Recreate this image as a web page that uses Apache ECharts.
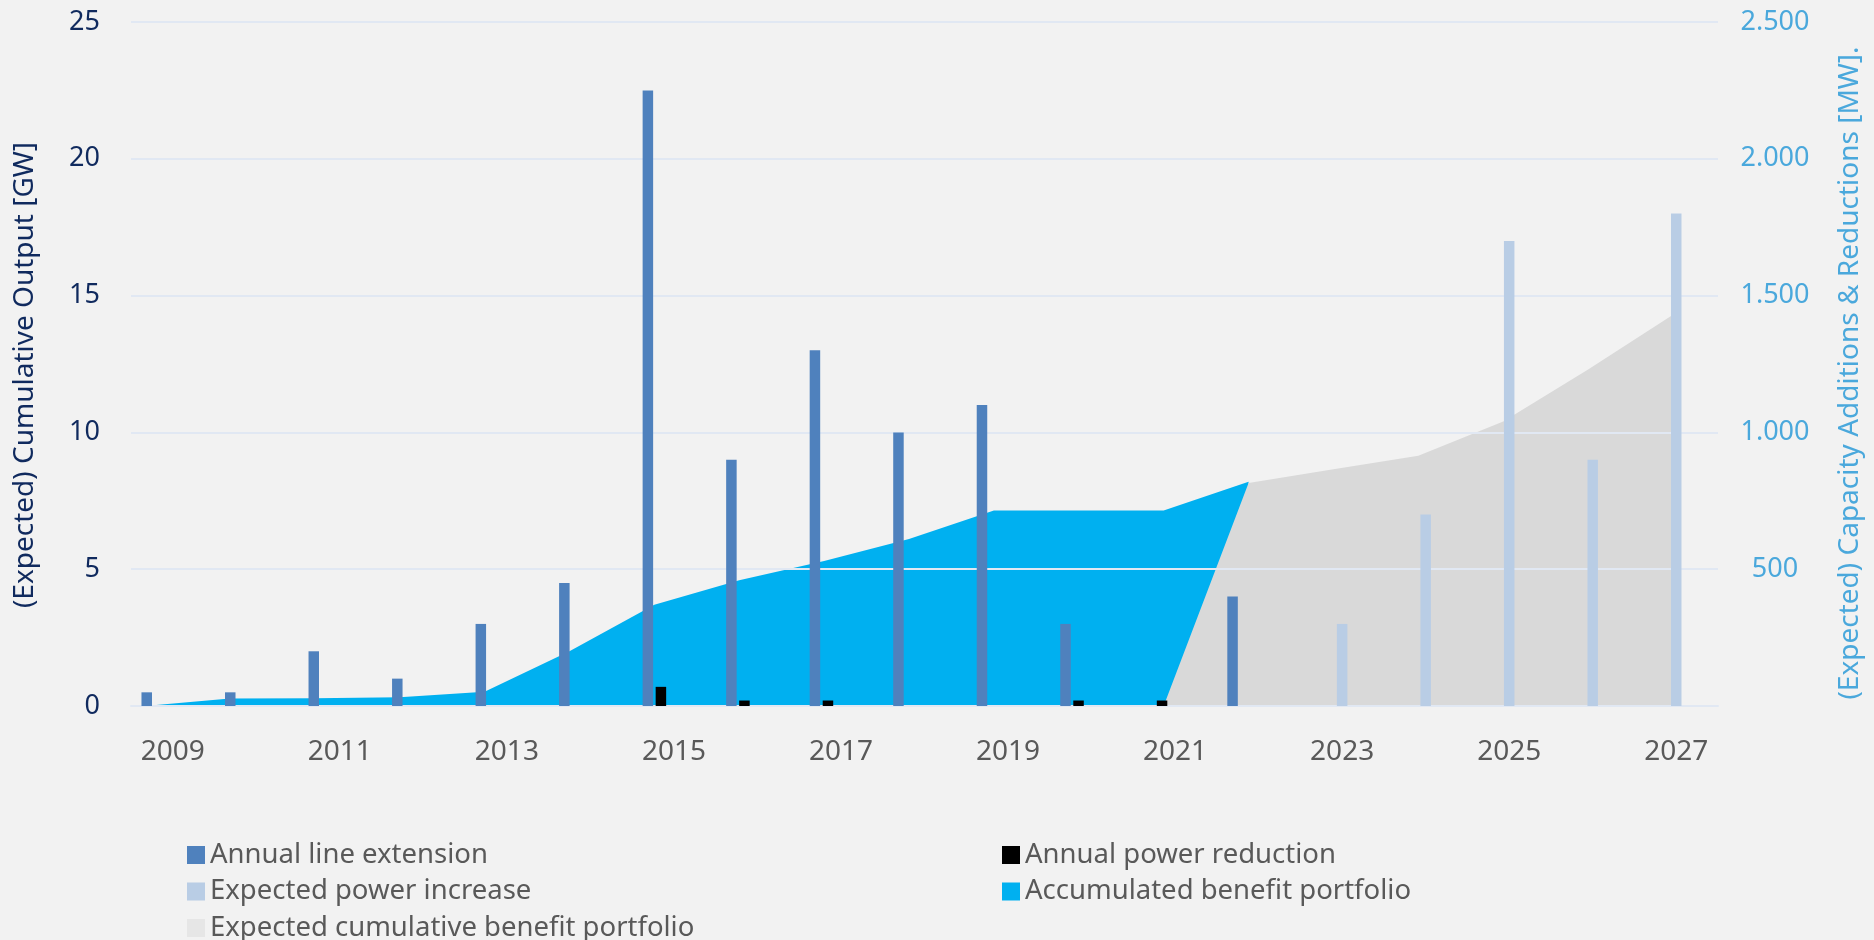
<!DOCTYPE html>
<html>
<head>
<meta charset="utf-8">
<script src="https://cdn.jsdelivr.net/npm/echarts@6/dist/echarts.min.js"></script>
<style>
  html, body { margin: 0; padding: 0; background: #f2f2f2; }
  #chart { width: 1874px; height: 940px; }
</style>
</head>
<body>
<div id="chart"></div>
<script>
// categories
const years = ['2009', '2010', '2011', '2012', '2013', '2014', '2015', '2016', '2017', '2018',
               '2019', '2020', '2021', '2022', '2023', '2024', '2025', '2026', '2027'];

// bars, MW (right axis)
const lineExtension    = [50, 50, 200, 100, 300, 450, 2250, 900, 1300, 1000, 1100, 300, null, 400, null, null, null, null, null];
const powerReduction   = [null, null, null, null, null, null, 70, 20, 20, null, null, 20, 20, null, null, null, null, null, null];
const expectedIncrease = [null, null, null, null, null, null, null, null, null, null, null, null, null, null, 300, 700, 1700, 900, 1800];

// areas, GW (left axis)
const accumulated        = [0, 0.27, 0.28, 0.32, 0.52, 2.0, 3.7, 4.6, 5.3, 6.1, 7.15, 7.15, 7.15, 8.2, null, null, null, null, null];
const expectedCumulative = [null, null, null, null, null, null, null, null, null, null, null, null, 0, 8.15, 8.65, 9.15, 10.4, 12.3, 14.3];

// tick values
const gwTicks = { min: 0, max: 25, interval: 5 };
const mwTicks = { min: 0, max: 2500, interval: 500 };

const leftTitle = '(Expected) Cumulative Output [GW]';
const rightTitle = '(Expected) Capacity Additions & Reductions [MW].';

const FONT = '"Noto Sans", "Open Sans", sans-serif';
const GRID_LINE = '#e1e8f3';

function mwLabel(v) {
    if (v === 0) return '';
    if (v >= 1000) return Math.floor(v / 1000) + '.' + String(v % 1000).padStart(3, '0');
    return String(v);
}

const chart = echarts.init(document.getElementById('chart'));

const barBase = {
    type: 'bar',
    xAxisIndex: 0,
    yAxisIndex: 1,
    barWidth: 10.5,
    barGap: '24%',
    z: 3
};

const legendBase = {
    top: 841,
    height: 120,
    padding: 0,
    orient: 'vertical',
    icon: 'rect',
    itemWidth: 18,
    itemHeight: 18,
    itemGap: 8.5,
    selectedMode: false,
    textStyle: { fontSize: 27.5, lineHeight: 24, color: '#595959', fontFamily: FONT }
};

const option = {
    backgroundColor: '#f2f2f2',
    animation: false,
    textStyle: { fontFamily: FONT },
    grid: [
        { left: 131, right: 156, top: 22, bottom: 234 },
        { left: 145, right: 201, top: 22, bottom: 234 }
    ],
    graphic: [
        {
            type: 'text',
            x: 25,
            y: 375,
            rotation: Math.PI / 2,
            style: {
                text: leftTitle,
                font: '28px ' + FONT,
                fill: '#102a5e',
                align: 'center',
                verticalAlign: 'middle'
            }
        },
        {
            type: 'text',
            x: 1850,
            y: 373,
            rotation: Math.PI / 2,
            style: {
                text: rightTitle,
                font: '28px ' + FONT,
                fill: '#4aa8dc',
                align: 'center',
                verticalAlign: 'middle'
            }
        }
    ],
    xAxis: [
        {
            type: 'category',
            gridIndex: 0,
            data: years,
            boundaryGap: true,
            z: 2,
            axisTick: { show: false },
            axisLine: { lineStyle: { color: GRID_LINE, width: 2 } },
            axisLabel: {
                interval: 1,
                margin: 32,
                fontSize: 28,
                color: '#595959',
                fontFamily: FONT
            }
        },
        {
            type: 'category',
            gridIndex: 1,
            data: years,
            boundaryGap: false,
            show: false
        }
    ],
    yAxis: [
        {
            type: 'value',
            gridIndex: 0,
            min: gwTicks.min,
            max: gwTicks.max,
            interval: gwTicks.interval,
            z: 2,
            axisLine: { show: false },
            axisTick: { show: false },
            axisLabel: { fontSize: 27, color: '#102a5e', margin: 31, fontFamily: FONT },
            splitLine: { lineStyle: { color: GRID_LINE, width: 2 } }
        },
        {
            type: 'value',
            gridIndex: 0,
            position: 'right',
            min: mwTicks.min,
            max: mwTicks.max,
            interval: mwTicks.interval,
            axisLine: { show: false },
            axisTick: { show: false },
            splitLine: { show: false },
            axisLabel: {
                fontSize: 27,
                color: '#4aa8dc',
                margin: 57,
                align: 'center',
                fontFamily: FONT,
                formatter: mwLabel
            }
        },
        {
            type: 'value',
            gridIndex: 1,
            min: gwTicks.min,
            max: gwTicks.max,
            show: false
        }
    ],
    legend: [
        Object.assign({}, legendBase, {
            left: 187,
            data: [
                { name: 'Annual line extension' },
                { name: 'Expected power increase' },
                { name: 'Expected cumulative benefit portfolio', itemStyle: { color: '#e6e6e6' } }
            ]
        }),
        Object.assign({}, legendBase, {
            left: 1002,
            data: [
                { name: 'Annual power reduction' },
                { name: 'Accumulated benefit portfolio' }
            ]
        })
    ],
    series: [
        {
            name: 'Accumulated benefit portfolio',
            type: 'line',
            xAxisIndex: 1,
            yAxisIndex: 2,
            data: accumulated,
            symbol: 'none',
            z: 1,
            itemStyle: { color: '#00b0f0' },
            lineStyle: { width: 0 },
            areaStyle: { color: '#00b0f0', opacity: 1 }
        },
        {
            name: 'Expected cumulative benefit portfolio',
            type: 'line',
            xAxisIndex: 1,
            yAxisIndex: 2,
            data: expectedCumulative,
            symbol: 'none',
            z: 1,
            itemStyle: { color: '#d9d9d9' },
            lineStyle: { width: 0 },
            areaStyle: { color: '#d9d9d9', opacity: 1 }
        },
        Object.assign({}, barBase, {
            name: 'Annual line extension',
            data: lineExtension,
            itemStyle: { color: '#4f81bd' }
        }),
        Object.assign({}, barBase, {
            name: 'Annual power reduction',
            data: powerReduction,
            itemStyle: { color: '#000000' }
        }),
        Object.assign({}, barBase, {
            name: 'Expected power increase',
            data: expectedIncrease,
            itemStyle: { color: '#b9cde5' }
        }),
        // two empty slots so the cluster lines up like the original
        Object.assign({}, barBase, { name: 'slot-a', data: [] }),
        Object.assign({}, barBase, { name: 'slot-b', data: [] })
    ]
};

chart.setOption(option);
</script>
</body>
</html>
